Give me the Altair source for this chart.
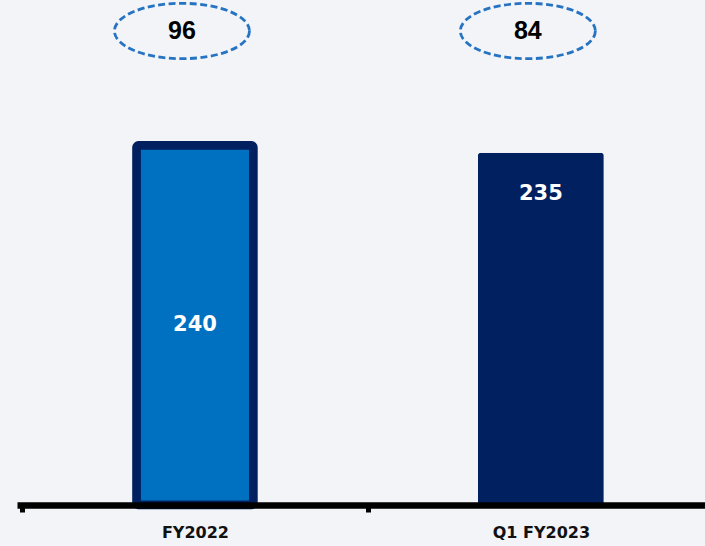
import altair as alt
import pandas as pd

# Chart values
categories = ["FY2022", "Q1 FY2023"]
bar_values = [240, 235]
circled_values = [96, 84]

df = pd.DataFrame({"category": categories, "value": bar_values, "circled": circled_values})

BG = "#F2F4F8"
LIGHT_BLUE = "#0070C0"
NAVY = "#002060"
DASH_BLUE = "#2673C2"

STEP = 351          # pixels per category slot
PLOT_W = 688
PLOT_H = 505
X_MAX = PLOT_W / STEP
Y_MAX = 337

# dashed ellipse drawn as a custom symbol (unit box, four cubic curves)
RX, RY, K = 1.0, 0.41, 0.5523
ELLIPSE = (
    f"M {RX} 0 C {RX} {RY*K:.4f} {RX*K:.4f} {RY} 0 {RY} "
    f"C {-RX*K:.4f} {RY} {-RX} {RY*K:.4f} {-RX} 0 "
    f"C {-RX} {-RY*K:.4f} {-RX*K:.4f} {-RY} 0 {-RY} "
    f"C {RX*K:.4f} {-RY} {RX} {-RY*K:.4f} {RX} 0 Z"
)

label_expr = " : ".join(
    f"datum.value == {i + 0.5} ? '{c}'" for i, c in enumerate(categories)
) + " : ''"

base = (
    alt.Chart(df)
    .transform_window(rank="row_number()")
    .transform_calculate(pos="datum.rank - 0.5", mid="datum.value / 2")
)

x_enc = alt.X(
    "pos:Q",
    scale=alt.Scale(domain=[0, X_MAX], nice=False, zero=False),
    axis=alt.Axis(
        values=[0, 0.5, 1, 1.5],
        labelExpr=label_expr,
        title=None,
        grid=False,
        domainColor="black",
        domainWidth=6.5,
        tickColor="black",
        tickWidth=5,
        tickSize=7,
        tickOpacity={"condition": {"test": "datum.value % 1 == 0", "value": 1}, "value": 0},
        labelFont="DejaVu Sans",
        labelFontSize=16,
        labelFontWeight="bold",
        labelColor="#111111",
        labelPadding=12,
        labelOverlap=False,
        labelFlush=False,
        zindex=1,
    ),
)
y_scale = alt.Scale(domain=[0, Y_MAX], nice=False)

bar_fy = base.transform_filter("datum.rank == 1").mark_bar(
    width=117, color=LIGHT_BLUE, stroke=NAVY, strokeWidth=8.5, cornerRadius=2
).encode(x=x_enc, y=alt.Y("value:Q", scale=y_scale, axis=None))

bar_q1 = base.transform_filter("datum.rank == 2").mark_bar(
    width=126, color=NAVY, cornerRadiusTopLeft=3, cornerRadiusTopRight=3
).encode(x=x_enc, y=alt.Y("value:Q", scale=y_scale, axis=None))

text_style = dict(color="white", font="DejaVu Sans", fontSize=21, fontWeight="bold", baseline="middle")

label_fy = base.transform_filter("datum.rank == 1").mark_text(**text_style).encode(
    x=x_enc, y=alt.Y("mid:Q", scale=y_scale, axis=None), text="value:Q"
)
label_q1 = base.transform_filter("datum.rank == 2").mark_text(dy=41, **text_style).encode(
    x=x_enc, y=alt.Y("value:Q", scale=y_scale, axis=None), text="value:Q"
)

ellipses = base.mark_point(
    shape=ELLIPSE, size=135 ** 2, filled=False, color=DASH_BLUE, strokeWidth=2.8,
    strokeDash=[7, 3.5], xOffset=-13, opacity=1,
).encode(x=x_enc, y=alt.value(31))

ellipse_text = base.mark_text(
    font="Liberation Sans", fontSize=25, fontWeight="bold", color="black",
    baseline="middle", xOffset=-13,
).encode(x=x_enc, y=alt.value(31), text="circled:Q")

chart = (
    alt.layer(bar_fy, bar_q1, label_fy, label_q1, ellipses, ellipse_text)
    .properties(
        width=PLOT_W,
        height=PLOT_H,
        background=BG,
        padding={"left": 17, "top": 0, "right": 0, "bottom": 41},
        autosize=alt.AutoSizeParams(type="none"),
    )
    .configure_view(stroke=None)
)

chart.save("out.html", embed_options={"renderer": "svg", "actions": False})
